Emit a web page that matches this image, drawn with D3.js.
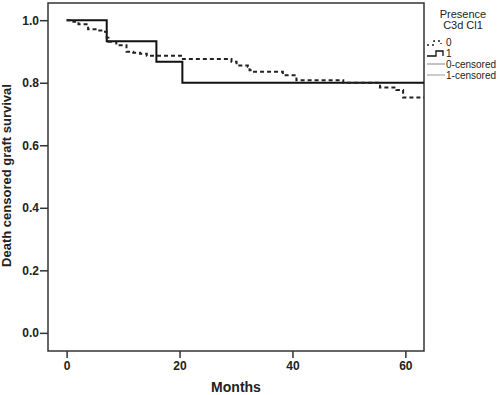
<!DOCTYPE html>
<html>
<head>
<meta charset="utf-8">
<script src="https://cdn.jsdelivr.net/npm/d3@7"></script>
<style>
  body { margin: 0; background: #fff; }
  svg text { font-family: "Liberation Sans", Arial, sans-serif; }
</style>
</head>
<body>
<script>
// Kaplan-Meier curves
var months0 = [0, 1.2, 2.1, 3.8, 5.6, 6.8, 7.1, 7.4, 8.8, 10.6, 11.8, 13.0, 14.2, 20.6, 29.2, 30.1, 32.1, 32.4, 33.0, 38.3, 40.7, 49.0, 55.5, 58.4, 59.6];
var surv0   = [1.0, 0.995, 0.987, 0.971, 0.967, 0.963, 0.944, 0.931, 0.920, 0.899, 0.896, 0.893, 0.886, 0.876, 0.867, 0.855, 0.851, 0.840, 0.835, 0.824, 0.808, 0.800, 0.785, 0.777, 0.753];
var months1 = [0, 7.1, 15.9, 20.5];
var surv1   = [1.0, 0.933, 0.867, 0.800];
var lastMonth = 63.3;

var xTicks = [0, 20, 40, 60];
var yTicks = [0, 0.2, 0.4, 0.6, 0.8, 1.0];
var legendTitle = ["Presence", "C3d Cl1"];
var legendLabels = ["0", "1", "0-censored", "1-censored"];

var width = 500, height = 395;
var plotLeft = 48, plotRight = 424, plotTop = 3, plotBottom = 351;

var svg = d3.select("body").append("svg")
    .attr("width", width)
    .attr("height", height);

var xScale = d3.scaleLinear().domain([-3.3, lastMonth]).range([plotLeft, plotRight]);
var yScale = d3.scaleLinear().domain([-0.058, 1.055]).range([plotBottom, plotTop]);

// frame
svg.append("rect")
    .attr("x", plotLeft).attr("y", plotTop)
    .attr("width", plotRight - plotLeft).attr("height", plotBottom - plotTop)
    .attr("fill", "none").attr("stroke", "#333").attr("stroke-width", 1.5);

// axes
var yAxis = d3.axisLeft(yScale).tickValues(yTicks).tickFormat(d3.format(".1f")).tickSize(8).tickPadding(1);
var gy = svg.append("g").attr("transform", "translate(" + plotLeft + ",0)").call(yAxis);
var xAxis = d3.axisBottom(xScale).tickValues(xTicks).tickSize(7).tickPadding(3);
var gx = svg.append("g").attr("transform", "translate(0," + plotBottom + ")").call(xAxis);

[gx, gy].forEach(function(g) {
  g.select(".domain").remove();
  g.selectAll(".tick line").attr("stroke", "#333").attr("stroke-width", 1.5);
  g.selectAll(".tick text")
    .attr("fill", "#222")
    .style("font-family", "'Liberation Sans', Arial, sans-serif")
    .style("font-size", "12px").style("font-weight", "bold");
});

// axis titles
svg.append("text")
    .attr("x", xScale(30)).attr("y", 392)
    .attr("text-anchor", "middle")
    .style("font-size", "14px").style("font-weight", "bold").attr("fill", "#222")
    .text("Months");

svg.append("text")
    .attr("transform", "translate(11," + ((85 + 266) / 2) + ") rotate(-90)")
    .attr("text-anchor", "middle")
    .style("font-size", "13px").style("font-weight", "bold").attr("fill", "#222")
    .text("Death censored graft survival");

// curves
function toPoints(ms, ss) {
  var pts = ms.map(function(m, i) { return [m, ss[i]]; });
  pts.push([lastMonth, ss[ss.length - 1]]);
  return pts;
}
var line = d3.line()
    .x(function(d) { return xScale(d[0]); })
    .y(function(d) { return yScale(d[1]); })
    .curve(d3.curveStepAfter);

svg.append("path")
    .datum(toPoints(months1, surv1))
    .attr("d", line)
    .attr("fill", "none").attr("stroke", "#111").attr("stroke-width", 2);

svg.append("path")
    .datum(toPoints(months0, surv0))
    .attr("d", line)
    .attr("fill", "none").attr("stroke", "#222").attr("stroke-width", 2)
    .attr("stroke-dasharray", "4,3");

// legend
svg.selectAll("text.ltitle").data(legendTitle).enter().append("text")
    .attr("class", "ltitle")
    .attr("x", 463).attr("y", function(d, i) { return 18 + i * 11; })
    .attr("text-anchor", "middle")
    .style("font-size", "11px").attr("fill", "#222")
    .text(function(d) { return d; });

var legY = [42, 53, 64, 75];
svg.append("path")
    .attr("d", "M427,45H434V41H441V44")
    .attr("fill", "none").attr("stroke", "#222").attr("stroke-width", 1.5)
    .attr("stroke-dasharray", "2,3");
svg.append("path")
    .attr("d", "M427,56H436V51H443V56")
    .attr("fill", "none").attr("stroke", "#111").attr("stroke-width", 1.3);
svg.append("line").attr("x1", 427).attr("x2", 445).attr("y1", legY[2]).attr("y2", legY[2])
    .attr("stroke", "#999").attr("stroke-width", 1.2);
svg.append("line").attr("x1", 427).attr("x2", 445).attr("y1", legY[3]).attr("y2", legY[3])
    .attr("stroke", "#aaa").attr("stroke-width", 1.2);

svg.selectAll("text.litem").data(legendLabels).enter().append("text")
    .attr("class", "litem")
    .attr("x", 446).attr("y", function(d, i) { return legY[i] + 3.5; })
    .style("font-size", "10px").attr("fill", "#222")
    .text(function(d) { return d; });
</script>
</body>
</html>
